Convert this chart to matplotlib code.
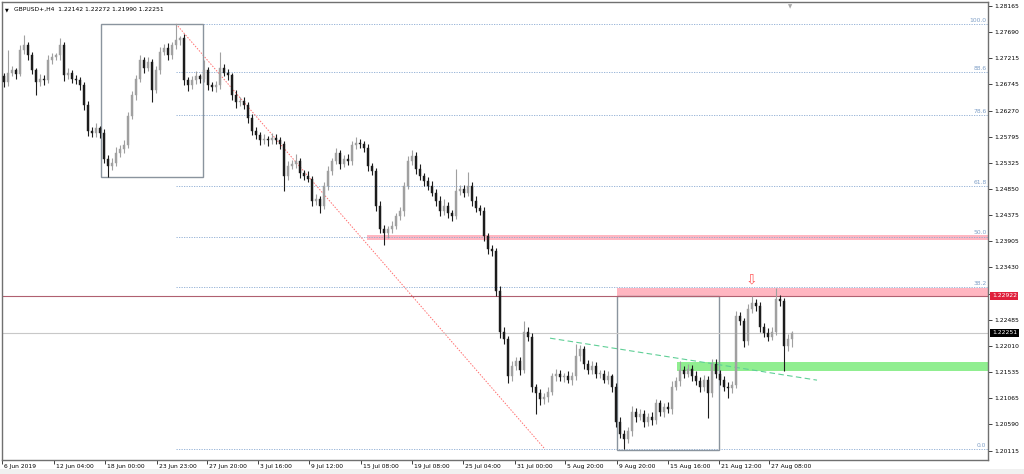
import matplotlib
matplotlib.use('Agg')
import matplotlib.pyplot as plt
import matplotlib.transforms as mtransforms
from matplotlib.patches import Rectangle

# GBPUSD H4 (one candle here ~ two H4 bars of the screenshot)
first_open = 1.2690
closes = [
    1.2678, 1.2696, 1.2700, 1.2694, 1.2736, 1.2745, 1.2727, 1.2700, 1.2678, 1.2685,
    1.2682, 1.2718, 1.2724, 1.2727, 1.2745, 1.2691, 1.2696, 1.2685, 1.2682, 1.2673,
    1.2637, 1.2591, 1.2586, 1.2595, 1.2587, 1.2540, 1.2527, 1.2533, 1.2551, 1.2558,
    1.2564, 1.2618, 1.2655, 1.2685, 1.2718, 1.2704, 1.2715, 1.2664, 1.2700, 1.2733,
    1.2740, 1.2727, 1.2745, 1.2755, 1.2758, 1.2682, 1.2673, 1.2682, 1.2689, 1.2685,
    1.2700, 1.2673, 1.2669, 1.2673, 1.2704, 1.2696, 1.2691, 1.2655, 1.2642, 1.2645,
    1.2637, 1.2613, 1.2591, 1.2582, 1.2573, 1.2576, 1.2573, 1.2578, 1.2573, 1.2567,
    1.2509, 1.2527, 1.2531, 1.2536, 1.2514, 1.2509, 1.2504, 1.2464, 1.2467, 1.2455,
    1.2491, 1.2518, 1.2536, 1.2551, 1.2531, 1.2540, 1.2536, 1.2564, 1.2569, 1.2567,
    1.2560, 1.2527, 1.2518, 1.2455, 1.2413, 1.2405, 1.2413, 1.2418, 1.2436, 1.2445,
    1.2491, 1.2536, 1.2545, 1.2522, 1.2509, 1.2500, 1.2491, 1.2478, 1.2464, 1.2445,
    1.2455, 1.2442, 1.2436, 1.2482, 1.2485, 1.2478, 1.2491, 1.2464, 1.2451, 1.2445,
    1.2400, 1.2376, 1.2373, 1.2300, 1.2227, 1.2213, 1.2146, 1.2164, 1.2173, 1.2158,
    1.2227, 1.2218, 1.2127, 1.2115, 1.2104, 1.2109, 1.2118, 1.2146, 1.2151, 1.2144,
    1.2146, 1.2140, 1.2146, 1.2182, 1.2195, 1.2169, 1.2158, 1.2164, 1.2151, 1.2151,
    1.2140, 1.2146, 1.2127, 1.2064, 1.2042, 1.2033, 1.2046, 1.2082, 1.2073, 1.2078,
    1.2064, 1.2073, 1.2067, 1.2097, 1.2082, 1.2091, 1.2086, 1.2127, 1.2137, 1.2158,
    1.2151, 1.2160, 1.2146, 1.2137, 1.2127, 1.2140, 1.2115, 1.2169, 1.2151, 1.2140,
    1.2127, 1.2124, 1.2131, 1.2255, 1.2246, 1.2209, 1.2267, 1.2278, 1.2273, 1.2236,
    1.2224, 1.2218, 1.2227, 1.2286, 1.2282, 1.2200, 1.2214, 1.22251,
]
# wick lengths beyond the body, in pips
hi_ext = [
    6, 40, 8, 5, 9, 19, 7, 6, 5, 8, 6, 10, 7, 5, 13, 6, 8, 5, 7, 6,
    5, 8, 6, 9, 5, 7, 6, 8, 10, 6, 9, 7, 8, 6, 10, 7, 9, 6, 8, 10,
    7, 9, 6, 29, 5, 8, 6, 7, 9, 5, 18, 6, 5, 7, 29, 8, 6, 5, 9, 7,
    6, 5, 8, 7, 6, 9, 5, 8, 6, 7, 5, 8, 7, 12, 5, 6, 8, 5, 9, 6,
    7, 8, 6, 9, 5, 7, 8, 8, 10, 6, 5, 7, 6, 5, 8, 7, 6, 9, 5, 8,
    6, 9, 10, 7, 8, 5, 6, 9, 7, 8, 12, 6, 5, 40, 8, 7, 24, 6, 9, 5,
    8, 6, 7, 5, 9, 8, 6, 10, 8, 7, 19, 9, 6, 5, 8, 7, 9, 6, 8, 7,
    6, 9, 7, 22, 8, 6, 7, 9, 8, 6, 7, 10, 5, 6, 8, 7, 9, 10, 6, 8,
    7, 6, 9, 8, 6, 7, 9, 10, 8, 15, 7, 8, 6, 9, 7, 8, 6, 8, 9, 7,
    6, 8, 7, 9, 8, 6, 10, 14, 8, 7, 6, 9, 8, 20, 7, 6, 8, 2,
]
lo_ext = [
    8, 6, 7, 9, 5, 6, 8, 7, 23, 6, 9, 5, 7, 6, 8, 10, 6, 8, 7, 9,
    8, 10, 7, 6, 9, 8, 21, 7, 6, 8, 7, 5, 6, 8, 7, 9, 6, 22, 5, 7,
    6, 8, 7, 6, 9, 8, 10, 6, 7, 8, 6, 9, 7, 8, 6, 7, 9, 8, 10, 6,
    7, 8, 9, 6, 8, 7, 10, 6, 7, 9, 27, 8, 6, 7, 9, 8, 6, 10, 7, 14,
    6, 8, 7, 5, 9, 6, 8, 7, 6, 8, 7, 9, 8, 10, 7, 22, 9, 8, 6, 7,
    8, 6, 7, 9, 8, 10, 7, 6, 9, 8, 7, 10, 9, 6, 8, 7, 6, 9, 8, 7,
    9, 8, 10, 8, 11, 9, 12, 8, 7, 10, 6, 8, 9, 37, 10, 8, 9, 6, 8, 7,
    8, 7, 9, 6, 8, 10, 7, 8, 9, 8, 7, 8, 10, 9, 8, 19, 7, 8, 9, 7,
    10, 8, 9, 7, 8, 9, 7, 8, 6, 8, 9, 7, 8, 6, 9, 8, 45, 6, 8, 9,
    7, 18, 8, 6, 8, 10, 7, 6, 8, 9, 7, 8, 6, 7, 8, 45, 8, 15,
]

time_labels = ['6 Jun 2019', '12 Jun 04:00', '18 Jun 00:00', '23 Jun 23:00', '27 Jun 20:00',
               '3 Jul 16:00', '9 Jul 12:00', '15 Jul 08:00', '19 Jul 08:00', '25 Jul 04:00',
               '31 Jul 00:00', '5 Aug 20:00', '9 Aug 20:00', '15 Aug 16:00', '21 Aug 12:00',
               '27 Aug 08:00']
time_pos = [-0.5, 12.5, 25.25, 38.25, 50.75, 63.5, 76.25, 89.25, 102, 114.75,
            127.75, 140.25, 153.25, 166, 178.75, 191.25]

# right scale labels as printed by the terminal (1.22955 is hidden by the line label)
price_labels = ['1.28165', '1.27690', '1.27215', '1.26745', '1.26270', '1.25795',
                '1.25325', '1.24850', '1.24375', '1.23905', '1.23430', '',
                '1.22485', '1.22010', '1.21535', '1.21065', '1.20590', '1.20115']
price_top, price_step = 1.28165, 0.0047353

# fibonacci (high 25 Jun -> low 12 Aug)
fib_high, fib_low = 1.2784, 1.2014
fib_start, fib_end = 43, 135.25
fib_levels = [100.0, 88.6, 78.6, 61.8, 50.0, 38.2, 0.0]

# boxes and zones
box1 = (24.2, 49.75, 1.2506, 1.2784)
box2 = (153.25, 178.75, 1.2012, 1.2292)
pink1 = (90.75, 1.2392, 1.2401)
pink2 = (153.25, 1.2290, 1.2306)
green = (168.25, 1.2155, 1.2172)
trend = ((136.5, 1.2215), (203.25, 1.2139))
res_line = 1.22922
last_price = 1.22251
arrow_pos = (186.75, 1.2321)

XMAX = 246
FS = 4.3

fig = plt.figure(figsize=(10.24, 4.74), dpi=100)
fig.patch.set_facecolor('white')
fig.patches.append(Rectangle((0, 0), 1, 5 / 474, transform=fig.transFigure,
                             fc='#f0f0f0', ec='none'))
ax = fig.add_axes([2 / 1024, 1 - 460 / 474, 986 / 1024, 458 / 474])
ax.set_xlim(-0.5, XMAX)
ax.set_ylim(price_top - 454 / 26.15 * price_step, price_top + 4 / 26.15 * price_step)

# zones
for x0, lo, hi in [pink1, pink2]:
    ax.add_patch(Rectangle((x0, lo), XMAX - x0, hi - lo, fc='#ffb6c1', ec='none', zorder=1))
ax.add_patch(Rectangle((green[0], green[1]), XMAX - green[0], green[2] - green[1],
                       fc='#90ee90', ec='none', zorder=1))

# fib levels
rng = fib_high - fib_low
for lv in fib_levels:
    p = fib_low + rng * lv / 100
    ax.plot([fib_start, XMAX], [p, p], color='#8aaad2', lw=0.6, ls=(0, (1.5, 1.5)), zorder=2)
    ax.text(245.6, p + 0.0002, '%.1f' % lv, color='#7f9fc6', fontsize=FS,
            ha='right', va='bottom', zorder=2)
ax.plot([fib_start, fib_end], [fib_high, fib_low], color='#ff7070', lw=0.7,
        ls=(0, (1.5, 1.5)), zorder=2)

# boxes
for x0, x1, lo, hi in [box1, box2]:
    ax.add_patch(Rectangle((x0, lo), x1 - x0, hi - lo, fill=False, ec='#8a949e',
                           lw=1.0, zorder=2))

ax.axhline(res_line, color='#b06070', lw=0.8, zorder=2)
ax.axhline(last_price, color='#c8c8c8', lw=0.8, zorder=2)
ax.plot([trend[0][0], trend[1][0]], [trend[0][1], trend[1][1]], color='#5fcf96',
        lw=0.8, ls=(0, (5, 3)), zorder=2)

# candles
opens = [first_open] + closes[:-1]
for i, (o, c) in enumerate(zip(opens, closes)):
    top, bot = max(o, c), min(o, c)
    hi = top + hi_ext[i] * 0.0001
    lo = bot - lo_ext[i] * 0.0001
    col = '#a0a0a0' if c >= o else '#1c1c1c'
    ax.vlines(i, lo, hi, color=col, lw=0.8, zorder=3)
    ax.bar(i, max(top - bot, 0.00006), bottom=bot, width=0.6, color=col,
           edgecolor=col, lw=0.3, zorder=4)

ax.text(arrow_pos[0], arrow_pos[1], '\u21e9', color='#ff5a5a', fontsize=10,
        ha='center', va='center', zorder=5)

# axes
for s in ax.spines.values():
    s.set_color('#707070')
    s.set_linewidth(1.0)
ticks = [price_top - k * price_step for k in range(len(price_labels))]
ax.yaxis.tick_right()
ax.set_yticks(ticks)
ax.set_yticklabels(price_labels)
ax.tick_params(axis='y', length=3, width=0.7, color='#404040', labelsize=FS, pad=1.5)
ax.set_xticks(time_pos)
ax.set_xticklabels([])
ax.tick_params(axis='x', length=3, width=0.7, color='#404040')

tx = mtransforms.blended_transform_factory(ax.transData, ax.transAxes)
for pos, lab in zip(time_pos, time_labels):
    ax.text(pos + 0.6, -0.008, lab, transform=tx, fontsize=FS, ha='left', va='top')

ty = mtransforms.blended_transform_factory(ax.transAxes, ax.transData)
ax.text(1.004, res_line, '1.22922', transform=ty, fontsize=FS, color='white',
        ha='left', va='center', zorder=6,
        bbox=dict(boxstyle='square,pad=0.25', fc='#e0203c', ec='none'))
ax.text(1.004, last_price, '1.22251', transform=ty, fontsize=FS, color='white',
        ha='left', va='center', zorder=6,
        bbox=dict(boxstyle='square,pad=0.25', fc='black', ec='none'))

# header
ax.text(0.003, 0.988, '\u25bc', transform=ax.transAxes, fontsize=3.5, ha='left', va='top')
ax.text(0.012, 0.99, 'GBPUSD+,H4  1.22142 1.22272 1.21990 1.22251', transform=ax.transAxes,
        fontsize=FS, ha='left', va='top')
ax.text(196.5, 0.995, '\u25bc', transform=tx, fontsize=4, color='#a8a8a8',
        ha='center', va='top')

fig.savefig('out.png', dpi=100)
